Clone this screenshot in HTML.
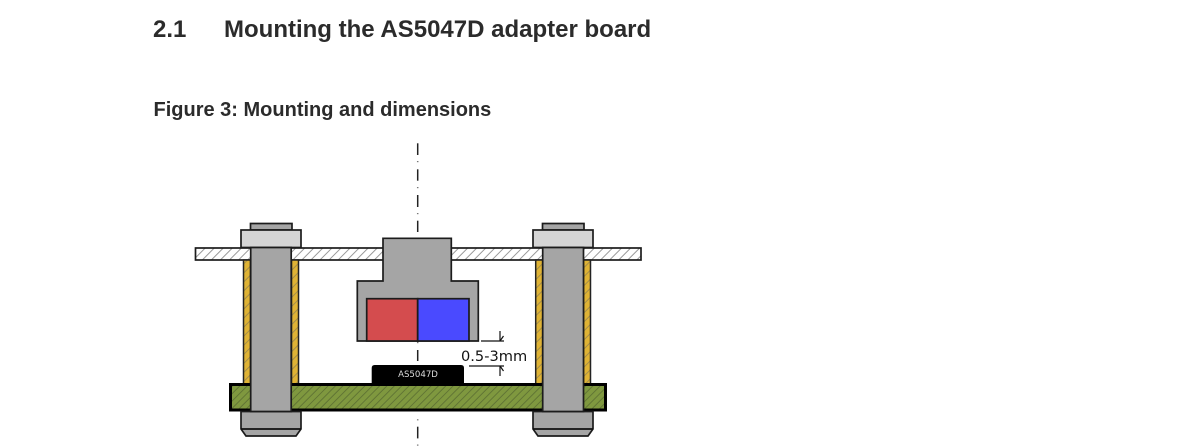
<!DOCTYPE html>
<html><head><meta charset="utf-8"><style>
html,body{margin:0;padding:0;background:#fff;width:1189px;height:447px;overflow:hidden}
svg{display:block}
</style></head><body>
<svg width="1189" height="447" viewBox="0 0 1189 447" xmlns="http://www.w3.org/2000/svg">
<defs>
<pattern id="hw" width="6.4" height="6.4" patternUnits="userSpaceOnUse" patternTransform="rotate(45)"><rect width="6.4" height="6.4" fill="#fff"/><line x1="0.5" y1="0" x2="0.5" y2="6.4" stroke="#999" stroke-width="1"/></pattern>
<pattern id="hg" width="5.2" height="5.2" patternUnits="userSpaceOnUse" patternTransform="rotate(45)"><rect width="5.2" height="5.2" fill="#7f983f"/><line x1="0.5" y1="0" x2="0.5" y2="5.2" stroke="#5e7233" stroke-width="0.9"/></pattern>
<pattern id="hy" width="6.4" height="6.4" patternUnits="userSpaceOnUse" patternTransform="rotate(45)"><rect width="6.4" height="6.4" fill="#dfb335"/><line x1="0.5" y1="0" x2="0.5" y2="6.4" stroke="#9f8a4e" stroke-width="0.9"/></pattern>
</defs>
<g font-family="'Liberation Sans',sans-serif" font-weight="700" fill="#2b2b2b">
<text x="153" y="37" font-size="24">2.1</text>
<text x="224" y="37" font-size="24">Mounting the AS5047D adapter board</text>
<text x="153.5" y="116" font-size="20">Figure 3: Mounting and dimensions</text>
</g>
<!-- center line -->
<g stroke="#222" stroke-width="1.5" fill="none">
<line x1="417.7" y1="143.3" x2="417.7" y2="155"/><line x1="417.7" y1="161" x2="417.7" y2="162.2" stroke="#777"/>
<line x1="417.7" y1="169.3" x2="417.7" y2="180.7"/><line x1="417.7" y1="187" x2="417.7" y2="188.2" stroke="#777"/>
<line x1="417.7" y1="195" x2="417.7" y2="207"/><line x1="417.7" y1="213" x2="417.7" y2="214.2" stroke="#777"/>
<line x1="417.7" y1="220.7" x2="417.7" y2="232"/>
<line x1="417.7" y1="342" x2="417.7" y2="343.200" stroke="#777"/>
<line x1="417.7" y1="350" x2="417.7" y2="361"/>
<line x1="417.7" y1="419.200" x2="417.7" y2="420.400" stroke="#777"/>
<line x1="417.7" y1="426.700" x2="417.7" y2="438.400"/>
<line x1="417.7" y1="444.500" x2="417.7" y2="445.700" stroke="#777"/>
</g>
<!-- plate -->
<rect x="195.5" y="248" width="445.5" height="12" fill="url(#hw)" stroke="#1c1c1c" stroke-width="1.7"/>
<!-- spacers -->
<g stroke="#222" stroke-width="1.500" fill="url(#hy)">
<rect x="243.500" y="260" width="7" height="124"/><rect x="291.500" y="260" width="7" height="124"/>
<rect x="535.700" y="260" width="7" height="124"/><rect x="583.500" y="260" width="7" height="124"/>
</g>
<!-- PCB -->
<rect x="230.500" y="384.500" width="375" height="25.500" fill="url(#hg)" stroke="#000" stroke-width="3"/>
<!-- chip -->
<path d="M371.700 384V368q0-3 3-3H461q3 0 3 3v16z" fill="#000"/>
<text x="418" y="377" font-family="'DejaVu Sans',sans-serif" font-size="8.600" fill="#ddd" text-anchor="middle">AS5047D</text>
<!-- bolts -->
<g stroke="#1c1c1c" stroke-width="1.700">
<rect x="250.500" y="223.500" width="41.500" height="6.500" fill="#a5a5a5"/>
<path d="M241 429V411.500H301V429L296 436H246Z" fill="#a5a5a5"/>
<line x1="241" y1="429" x2="301" y2="429" stroke="#111" stroke-width="1.800"/>
<rect x="241" y="230" width="60" height="17.500" fill="#d5d5d5"/>
<rect x="250.700" y="247.500" width="40.500" height="164" fill="#a5a5a5"/>
</g>
<g stroke="#1c1c1c" stroke-width="1.700">
<rect x="542.500" y="223.500" width="41.500" height="6.500" fill="#a5a5a5"/>
<path d="M533 429V411.500H593V429L588 436H538Z" fill="#a5a5a5"/>
<line x1="533" y1="429" x2="593" y2="429" stroke="#111" stroke-width="1.800"/>
<rect x="533" y="230" width="60" height="17.500" fill="#d5d5d5"/>
<rect x="542.700" y="247.500" width="40.800" height="164" fill="#a5a5a5"/>
</g>
<!-- magnet holder -->
<path d="M383 238.300H451.300V281H478.300V341H357.300V281H383Z" fill="#a5a5a5" stroke="#1c1c1c" stroke-width="1.700"/>
<rect x="366.700" y="298.700" width="51" height="42.300" fill="#d44c4e" stroke="#1c1c1c" stroke-width="1.700"/>
<rect x="417.700" y="298.700" width="51.300" height="42.300" fill="#4a4aff" stroke="#1c1c1c" stroke-width="1.700"/>
<!-- dimension -->
<g stroke="#111" stroke-width="1.200" fill="none">
<line x1="481" y1="341" x2="504" y2="341"/>
<line x1="500" y1="331" x2="500" y2="341"/>
<path d="M500 341L503.500 336"/>
<line x1="469" y1="366" x2="504" y2="366"/>
<line x1="500" y1="366" x2="500" y2="376"/>
<path d="M500 366L503.500 371"/>
</g>
<text x="461" y="361" font-family="'DejaVu Sans',sans-serif" font-size="14.600" fill="#111">0.5-3mm</text>
</svg>
</body></html>
